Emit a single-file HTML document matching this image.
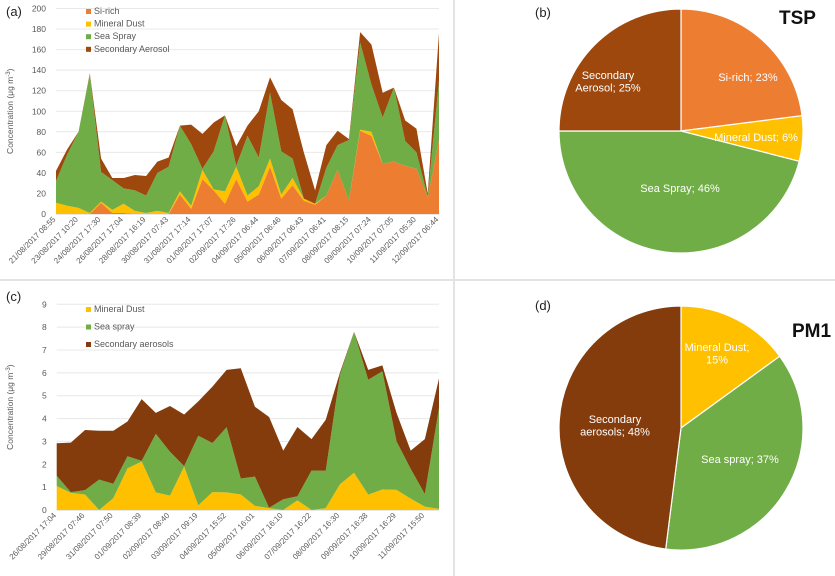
<!DOCTYPE html>
<html><head><meta charset="utf-8"><style>
body{margin:0;background:#fff;}
svg{display:block;font-family:"Liberation Sans",sans-serif;}
</style></head><body>
<svg id="s" width="835" height="576" viewBox="0 0 835 576"></svg>
<script>
// Panel (a) TSP stacked area data
const aLabels=["21/08/2017  08:55","23/08/2017  10:20","24/08/2017  17:30","26/08/2017  17:04","28/08/2017  16:19","30/08/2017  07:43","31/08/2017  17:14","01/09/2017  17:07","02/09/2017  17:26","04/09/2017  06:44","05/09/2017  06:46","06/09/2017  06:43","07/09/2017  06:41","08/09/2017  08:15","09/09/2017  07:24","10/09/2017  07:05","11/09/2017  05:30","12/09/2017  06:44"];
const aSi=[0,0,0,0,11,1,1,0,0,0,0,19,5,34,23,10,34,12,19,46,15,28,13,9,18,43,13,81,76,49,51,47,44,16,72];
const aDust=[11,8,6,1,1,3,9,3,1,3,1,3,3,9,1,12,12,6,8,8,4,7,2,1,0,0,0,1,4,0,0,0,0,0,0];
const aSea=[21,50,74,135,29,29,15,20,17,37,45,64,60,1,37,74,1,58,28,64,42,19,0,0,27,24,59,85,46,45,72,24,16,1,58];
const aSec=[10,5,0,1,13,2,10,15,19,11,9,0,19,34,28,0,19,10,45,15,50,48,45,13,22,14,1,10,39,24,0,20,23,3,46];
const aTicks=[0,20,40,60,80,100,120,140,160,180,200];
// Panel (c) PM1 stacked area data
const cLabels=["26/08/2017  17:04","29/08/2017  07:46","31/08/2017  07:50","01/09/2017  08:39","02/09/2017  08:40","03/09/2017  09:19","04/09/2017  15:52","05/09/2017  16:01","06/09/2017  16:10","07/09/2017  16:22","08/09/2017  16:30","09/09/2017  16:38","10/09/2017  16:29","11/09/2017  15:50"];
const cDust=[1.05,0.75,0.68,0,0.52,1.82,2.12,0.77,0.63,1.9,0.2,0.78,0.77,0.68,0.18,0.08,0,0.42,0,0.08,1.12,1.63,0.67,0.9,0.88,0.5,0.15,0.05];
const cSea=[0.45,0.03,0.19,1.33,0.63,0.53,0.03,2.56,1.92,0.02,3.05,2.15,2.85,0.7,1.28,0.02,0.47,0.18,1.73,1.64,4.78,6.17,5.03,5.17,2.12,1.3,0.55,4.41];
const cSec=[1.42,2.17,2.63,2.14,2.32,1.52,2.7,0.92,2.0,2.26,1.5,2.47,2.51,4.82,3.06,3.97,2.13,3.03,1.37,2.23,0.1,0,0.43,0.26,1.25,0.8,2.4,1.29];
const cTicks=[0,1,2,3,4,5,6,7,8,9];
// Pies
const bNames=["Si-rich","Mineral Dust","Sea Spray","Secondary Aerosol"];
const bVals=[23,6,46,25];
const dNames=["Mineral Dust","Sea spray","Secondary aerosols"];
const dVals=[15,37,48];

const NS="http://www.w3.org/2000/svg";
const svg=document.getElementById('s');
function mk(t,at,parent){const e=document.createElementNS(NS,t);for(const k in at)e.setAttribute(k,at[k]);(parent||svg).appendChild(e);return e;}

// panel separators
let l=mk('line',{x1:454,y1:0,x2:454,y2:576,stroke:'#e3e3e3','stroke-width':2});


l=mk('line',{x1:0,y1:280,x2:835,y2:280,stroke:'#e3e3e3','stroke-width':2});



function areaChart(o){
  const g=mk('g',{});
  
  
  const n=o.series[0].length;
  const x=i=>o.x0+i*(o.x1-o.x0)/(n-1);
  const y=v=>o.y0-(v-0)*(o.y0-o.yTop)/o.max;
  // gridlines and ticks
  o.ticks.forEach(t=>{
    const gl=mk('line',{x1:o.x0,x2:o.x1,y1:y(t),y2:y(t),stroke:t===0?'#d0d0d0':'#e8e8e8','stroke-width':1},g);
    
    
    const tl=mk('text',{x:o.x0-10,y:y(t)+3,'text-anchor':'end','font-size':8.5,fill:'#595959'},g);
    tl.textContent=t;
    
    
  });
  let base=new Array(n).fill(0);
  o.series.forEach((s,si)=>{
    const top=base.map((b,i)=>b+s[i]);
    let pts=[];
    for(let i=0;i<n;i++)pts.push(x(i)+','+y(top[i]));
    for(let i=n-1;i>=0;i--)pts.push(x(i)+','+y(base[i]));
    const p=mk('polygon',{points:pts.join(' '),fill:o.colors[si]},g);
    
    
    base=top;
  });
  o.labels.forEach((lab,k)=>{
    const xx=x(k*2), yy=o.y0+6;
    const t=mk('text',{x:xx,y:yy,'text-anchor':'end','font-size':8,fill:'#595959',transform:`rotate(-45 ${xx} ${yy})`,'xml:space':'preserve'},g);
    t.textContent=lab;
    
    
  });
  const yt=mk('text',{x:0,y:0,'text-anchor':'middle','font-size':8.5,fill:'#595959',transform:`translate(13 ${(o.y0+o.yTop)/2}) rotate(-90)`},g);
  yt.innerHTML='Concentration (μg m<tspan font-size="6" dy="-3">-3</tspan><tspan dy="3">)</tspan>';
  
  
  o.legend.forEach((lg,k)=>{
    const ly=o.legY+k*o.legStep;
    const r=mk('rect',{x:86,y:ly-5,width:5,height:5,fill:lg[1]},g);
    
    
    const t=mk('text',{x:94,y:ly,'font-size':9,fill:'#595959'},g);
    t.textContent=lg[0];
    
    
  });
  const pl=mk('text',{x:6,y:o.tagY,'font-size':13,fill:'#222'},g);
  pl.textContent=o.tag;
  
  
}
areaChart({name:'tsp-area-chart',x0:56,x1:439,y0:214,yTop:8.5,max:200,ticks:aTicks,
  series:[aSi,aDust,aSea,aSec],colors:['#ED7D31','#FFC000','#70AD47','#9E480E'],keys:['si-rich','mineral-dust','sea-spray','secondary-aerosol'],
  labels:aLabels,legend:[['Si-rich','#ED7D31'],['Mineral Dust','#FFC000'],['Sea Spray','#70AD47'],['Secondary Aerosol','#9E480E']],legY:14,legStep:12.6,tag:'(a)',tagY:16});
areaChart({name:'pm1-area-chart',x0:56.7,x1:439,y0:510,yTop:304.3,max:9,ticks:cTicks,
  series:[cDust,cSea,cSec],colors:['#FFC000','#70AD47','#843C0C'],keys:['mineral-dust','sea-spray','secondary-aerosols'],
  labels:cLabels,legend:[['Mineral Dust','#FFC000'],['Sea spray','#70AD47'],['Secondary aerosols','#843C0C']],legY:312,legStep:17.5,tag:'(c)',tagY:301});

function pie(o){
  const g=mk('g',{});
  
  
  const tot=o.vals.reduce((a,b)=>a+b,0);
  let a0=0;
  o.vals.forEach((v,i)=>{
    const a1=a0+v/tot*2*Math.PI;
    const p0=[o.cx+o.r*Math.sin(a0),o.cy-o.r*Math.cos(a0)];
    const p1=[o.cx+o.r*Math.sin(a1),o.cy-o.r*Math.cos(a1)];
    const large=(a1-a0)>Math.PI?1:0;
    const p=mk('path',{d:`M${o.cx},${o.cy}L${p0[0]},${p0[1]}A${o.r},${o.r} 0 ${large} 1 ${p1[0]},${p1[1]}Z`,fill:o.colors[i],stroke:'#fff','stroke-width':1.2},g);
    
    
    a0=a1;
  });
  o.labels.forEach((lb,i)=>{
    const t=mk('text',{x:lb[0],y:lb[1],'text-anchor':'middle','font-size':11,fill:'#fff'},g);
    lb[2].forEach((line,k)=>{const ts=mk('tspan',{x:lb[0],dy:k?12.5:0},t);ts.textContent=line;});
    
    
  });
  const tg=mk('text',{x:o.tag[1],y:o.tag[2],'font-size':13,fill:'#222'},g);
  tg.textContent=o.tag[0];
  
  
  const tt=mk('text',{x:o.title[1],y:o.title[2],'font-size':19,'font-weight':'bold',fill:'#111'},g);
  tt.textContent=o.title[0];
  
  
}
pie({name:'tsp-pie',cx:681,cy:131,r:122,vals:bVals,names:bNames,colors:['#ED7D31','#FFC000','#70AD47','#9E480E'],
  labels:[[748,81,['Si-rich; 23%']],[756,141,['Mineral Dust; 6%']],[680,192,['Sea Spray; 46%']],[608,79,['Secondary','Aerosol; 25%']]],
  tag:['(b)',535,17],title:['TSP',779,24]});
pie({name:'pm1-pie',cx:681,cy:428,r:122,vals:dVals,names:dNames,colors:['#FFC000','#70AD47','#843C0C'],
  labels:[[717,351,['Mineral Dust;','15%']],[740,463,['Sea spray; 37%']],[615,423,['Secondary','aerosols; 48%']]],
  tag:['(d)',535,310],title:['PM1',792,337]});
</script>
</body></html>
